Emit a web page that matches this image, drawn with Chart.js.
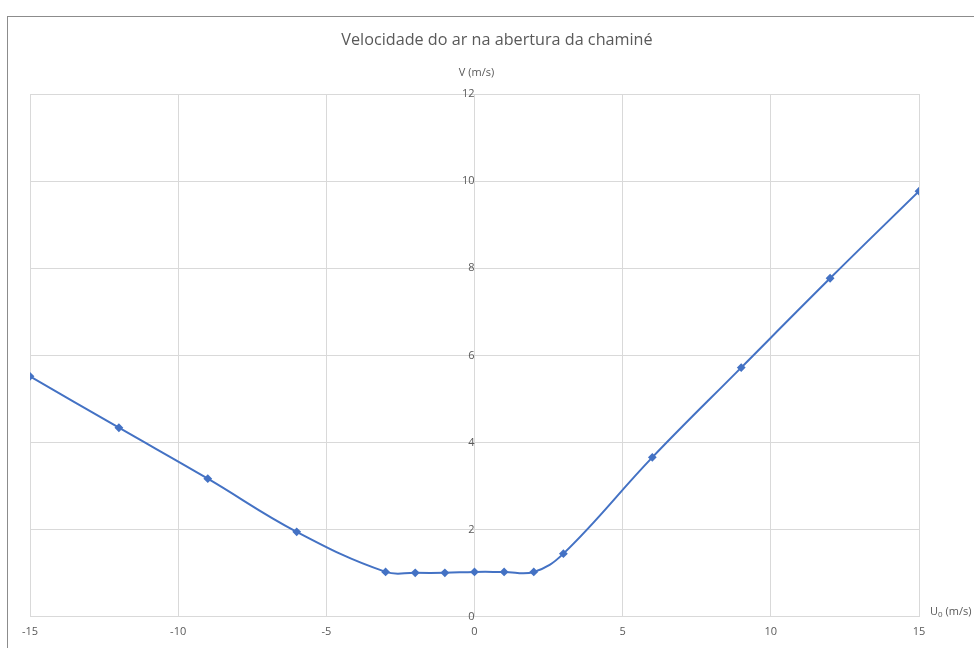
<!DOCTYPE html>
<html>
<head>
<meta charset="utf-8">
<script src="https://cdn.jsdelivr.net/npm/chart.js@4/dist/chart.umd.min.js"></script>
<style>
  html, body { margin: 0; padding: 0; background: #fff; }
  #wrap { width: 974px; height: 648px; }
</style>
</head>
<body>
<div id="wrap"><canvas id="chart" width="974" height="648"></canvas></div>
<script>
const titleText = 'Velocidade do ar na abertura da chaminé'
const yTitle = 'V (m/s)'
const xTitleMain = 'U'
const xTitleSub = '0'
const xTitleRest = ' (m/s)'

const windSpeed = [-15, -12, -9, -6, -3, -2, -1, 0, 1, 2, 3, 6, 9, 12, 15]
const airSpeed = [5.52, 4.34, 3.17, 1.95, 1.03, 1.01, 1.01, 1.03, 1.03, 1.03, 1.45, 3.66, 5.72, 7.77, 9.77]

const textColor = '#595959'
const gridColor = '#d9d9d9'
const lineColor = '#4472C4'
const fontFamily = "'Open Sans', 'Liberation Sans', sans-serif"

const points = windSpeed.map((x, i) => ({ x: x, y: airSpeed[i] }))

const decorations = {
  id: 'decorations',
  afterDraw(chart) {
    const ctx = chart.ctx
    const xs = chart.scales.x
    const ys = chart.scales.y
    ctx.save()
    // outer frame
    ctx.strokeStyle = '#8c8c8c'
    ctx.lineWidth = 1
    ctx.strokeRect(7.5, 16.5, 1000, 700)

    ctx.fillStyle = textColor
    ctx.textAlign = 'center'
    ctx.textBaseline = 'middle'
    ctx.font = '16.2px ' + fontFamily
    ctx.fillText(titleText, 497, 40)

    ctx.font = '11px ' + fontFamily
    ctx.fillText(yTitle, xs.getPixelForValue(0) + 2, 73)

    // x axis title with subscript
    let x = 930
    const y = ys.getPixelForValue(0) - 5
    ctx.textAlign = 'left'
    ctx.fillText(xTitleMain, x, y)
    x += ctx.measureText(xTitleMain).width
    ctx.font = '8px ' + fontFamily
    ctx.fillText(xTitleSub, x, y + 3)
    x += ctx.measureText(xTitleSub).width
    ctx.font = '11px ' + fontFamily
    ctx.fillText(xTitleRest, x, y)
    ctx.restore()
  }
}

new Chart(document.getElementById('chart'), {
  type: 'scatter',
  data: {
    datasets: [{
      data: points,
      showLine: true,
      borderColor: lineColor,
      backgroundColor: lineColor,
      borderWidth: 2,
      tension: 0.4,
      pointStyle: 'rectRot',
      pointRadius: 3,
      pointHoverRadius: 3
    }]
  },
  options: {
    responsive: false,
    animation: false,
    layout: {
      padding: { left: 30, right: 55, top: 94, bottom: 2 }
    },
    plugins: {
      legend: { display: false },
      tooltip: { enabled: false },
      title: { display: false }
    },
    scales: {
      x: {
        type: 'linear',
        min: -15,
        max: 15,
        ticks: {
          stepSize: 5,
          color: textColor,
          padding: 8,
          font: { family: fontFamily, size: 11 }
        },
        grid: { color: gridColor, drawTicks: false },
        border: { color: gridColor }
      },
      y: {
        type: 'linear',
        position: { x: 0 },
        min: 0,
        max: 12,
        ticks: {
          stepSize: 2,
          color: textColor,
          padding: 11,
          font: { family: fontFamily, size: 11 }
        },
        grid: { color: gridColor, drawTicks: false },
        border: { color: gridColor }
      }
    }
  },
  plugins: [decorations]
})
</script>
</body>
</html>
